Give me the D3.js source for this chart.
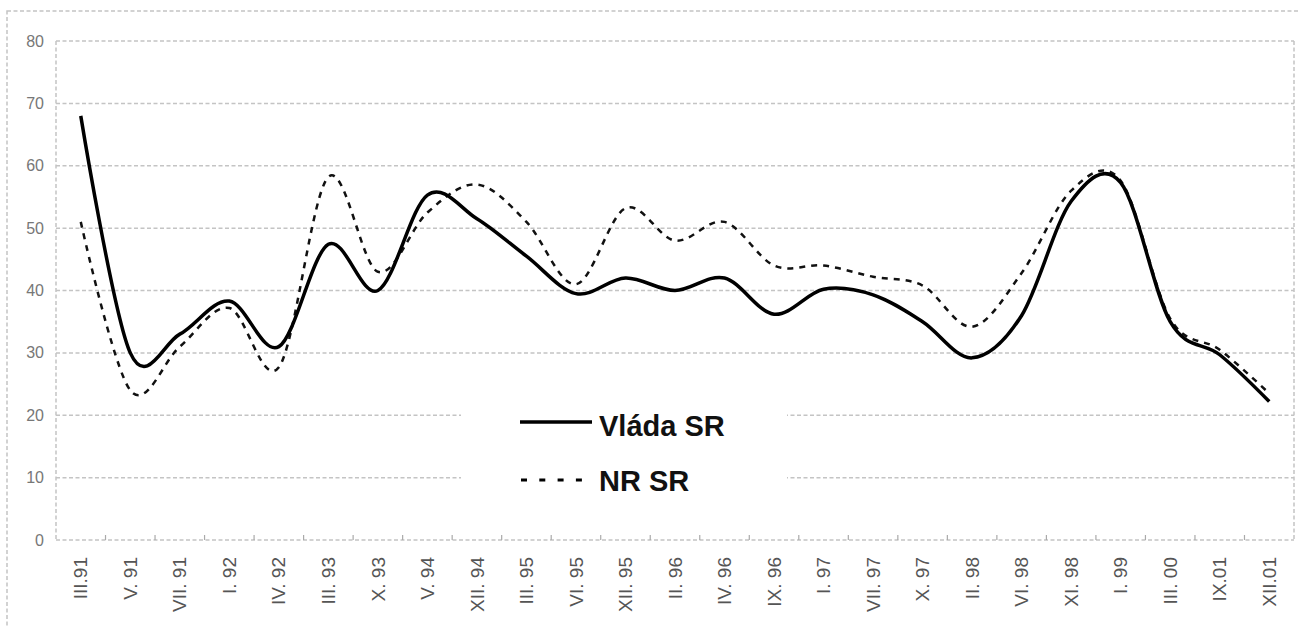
<!DOCTYPE html>
<html>
<head>
<meta charset="utf-8">
<script src="https://cdn.jsdelivr.net/npm/d3@7"></script>
<style>
  body { margin: 0; background: #fff; }
  svg { display: block; font-family: "Liberation Sans", Arial, sans-serif; }
</style>
</head>
<body>
<svg></svg>
<script>
// data
const periods = ["III.91", "V. 91", "VII. 91", "I. 92", "IV. 92", "III. 93", "X. 93", "V. 94",
  "XII. 94", "III. 95", "VI. 95", "XII. 95", "II. 96", "IV. 96", "IX. 96", "I. 97", "VII. 97",
  "X. 97", "II. 98", "VI. 98", "XI. 98", "I. 99", "III. 00", "IX.01", "XII.01"];
const vladaSR = [68, 30, 33, 38.3, 31, 47.4, 40, 55.3, 51.5, 45.5, 39.5, 42, 40, 42, 36.2, 40.2,
  39.3, 35, 29.2, 36, 54.3, 57.3, 35, 29.7, 22.2];
const nrSR = [51, 24, 31, 37.2, 27.7, 58.2, 43, 52.5, 57, 51, 41, 53.2, 48, 51, 44, 44,
  42.2, 40.8, 34.2, 42.8, 56, 57.6, 35.5, 30.5, 23.5];
const yTicks = [0, 10, 20, 30, 40, 50, 60, 70, 80];
const seriesNames = ["Vláda SR", "NR SR"];

const width = 1299, height = 627;
const svg = d3.select("svg").attr("width", width).attr("height", height);

const plotLeft = 56, plotRight = 1294, plotTop = 41, plotBottom = 540;
const x = d3.scaleBand().domain(periods).range([plotLeft, plotRight]);
const xc = d => x(d) + x.bandwidth() / 2;
const y = d3.scaleLinear().domain([0, 80]).range([plotBottom, plotTop]);

const gridColor = "#c4c4c4";

// outer frame
svg.append("rect")
    .attr("x", 7).attr("y", 11)
    .attr("width", 1320).attr("height", 700)
    .attr("fill", "none")
    .attr("stroke", gridColor)
    .attr("stroke-width", 1.5)
    .attr("stroke-dasharray", "4,2.5");

// horizontal gridlines
svg.append("g").selectAll("line")
    .data(yTicks)
    .enter().append("line")
    .attr("x1", plotLeft).attr("x2", plotRight)
    .attr("y1", d => y(d)).attr("y2", d => y(d))
    .attr("stroke", gridColor)
    .attr("stroke-width", 1.5)
    .attr("stroke-dasharray", "4,2.5");

// plot edges
[plotLeft, plotRight].forEach(px => {
    svg.append("line")
        .attr("x1", px).attr("x2", px)
        .attr("y1", plotTop).attr("y2", plotBottom)
        .attr("stroke", gridColor)
        .attr("stroke-width", 1.5)
        .attr("stroke-dasharray", "4,2.5");
});

// small ticks between categories
svg.append("g").selectAll("line")
    .data(periods.slice(1))
    .enter().append("line")
    .attr("x1", d => x(d)).attr("x2", d => x(d))
    .attr("y1", plotBottom).attr("y2", plotBottom - 5)
    .attr("stroke", "#aaa")
    .attr("stroke-width", 1.2);

// y labels
svg.append("g").selectAll("text")
    .data(yTicks)
    .enter().append("text")
    .attr("x", 44)
    .attr("y", d => y(d))
    .attr("dy", "0.35em")
    .attr("text-anchor", "end")
    .attr("font-size", "16px")
    .attr("fill", "#777")
    .text(d => d);

// x labels, rotated
svg.append("g").selectAll("text")
    .data(periods)
    .enter().append("text")
    .attr("transform", d => `translate(${xc(d)}, 557) rotate(-90)`)
    .attr("dy", "0.35em")
    .attr("text-anchor", "end")
    .attr("font-size", "19px")
    .attr("fill", "#555")
    .text(d => d);

// legend background hides the gridlines
svg.append("rect")
    .attr("x", 461).attr("y", 396)
    .attr("width", 326).attr("height", 104)
    .attr("fill", "#fff");

const line = d3.line()
    .x((d, i) => xc(periods[i]))
    .y(d => y(d))
    .curve(d3.curveCardinal.tension(0));

svg.append("path")
    .datum(nrSR)
    .attr("d", line)
    .attr("fill", "none")
    .attr("stroke", "#111")
    .attr("stroke-width", 2.5)
    .attr("stroke-dasharray", "6,6");

svg.append("path")
    .datum(vladaSR)
    .attr("d", line)
    .attr("fill", "none")
    .attr("stroke", "#000")
    .attr("stroke-width", 3.5);

// legend
const legend = svg.append("g");
legend.append("line")
    .attr("x1", 520).attr("x2", 592)
    .attr("y1", 422).attr("y2", 422)
    .attr("stroke", "#000").attr("stroke-width", 3.5);
legend.append("line")
    .attr("x1", 521).attr("x2", 584)
    .attr("y1", 480).attr("y2", 480)
    .attr("stroke", "#000").attr("stroke-width", 3)
    .attr("stroke-dasharray", "6,12.3");
legend.append("text")
    .attr("x", 599).attr("y", 436)
    .attr("font-size", "29px").attr("font-weight", "bold")
    .attr("fill", "#111")
    .text(seriesNames[0]);
legend.append("text")
    .attr("x", 599).attr("y", 491)
    .attr("font-size", "29px").attr("font-weight", "bold")
    .attr("fill", "#111")
    .text(seriesNames[1]);
</script>
</body>
</html>
